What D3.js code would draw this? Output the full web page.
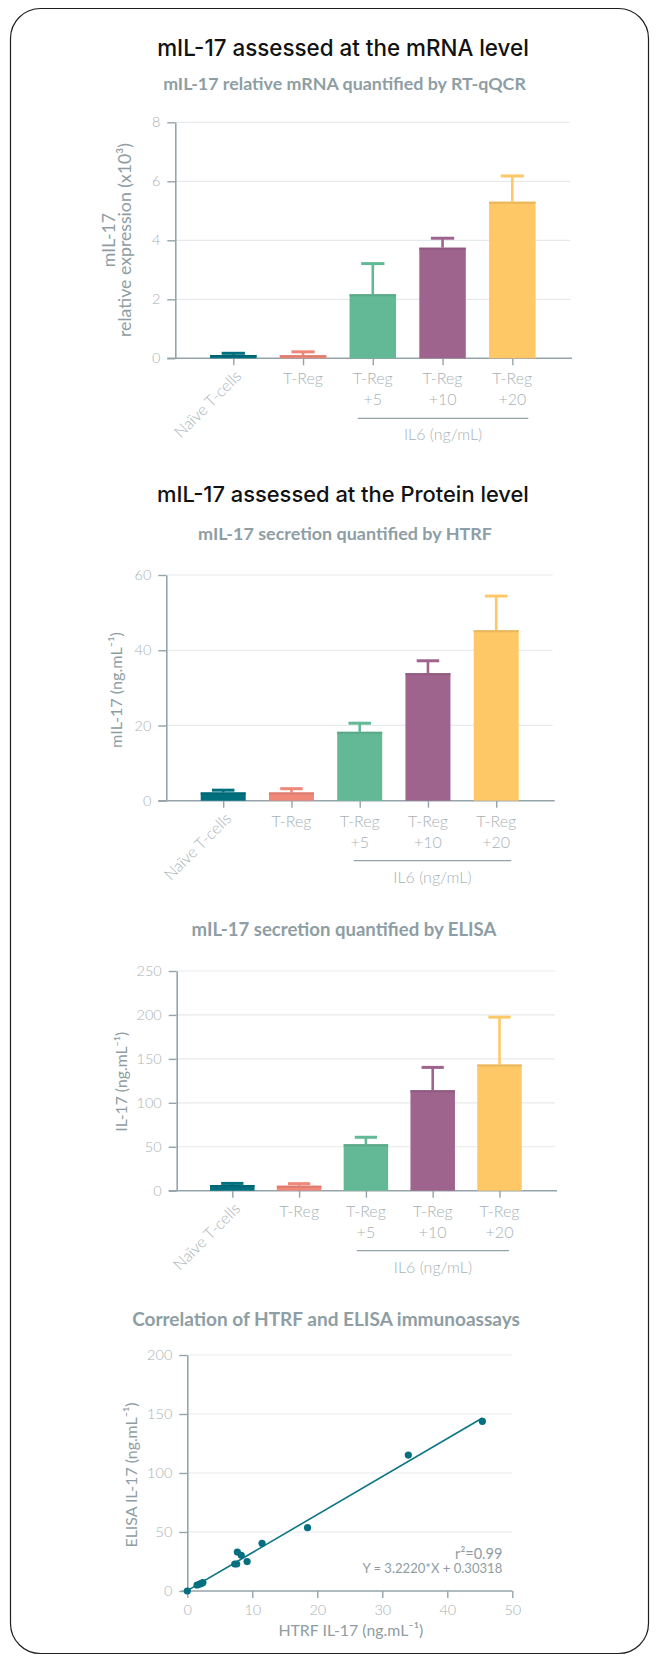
<!DOCTYPE html>
<html><head><meta charset="utf-8">
<script src="https://cdn.jsdelivr.net/npm/d3@7"></script>
<style>
html,body{margin:0;padding:0;background:#fff;}
svg{display:block;}
</style></head><body>
<svg id="fig" width="656" height="1659"></svg>
<script>
// ---- data ----
const categories = ["Naïve T-cells", "T-Reg", "T-Reg +5", "T-Reg +10", "T-Reg +20"];
const barColors = ["#00707f", "#f0887a", "#63b995", "#9e648d", "#fec867"];

const mrnaMean = [0.11, 0.10, 2.17, 3.75, 5.31];
const mrnaErr  = [0.06, 0.12, 1.04, 0.32, 0.87];
const mrnaTicks = [0, 2, 4, 6, 8];

const htrfMean = [2.2, 2.2, 18.3, 33.9, 45.3];
const htrfErr  = [0.6, 1.0, 2.3, 3.3, 9.1];
const htrfTicks = [0, 20, 40, 60];

const elisaMean = [6.5, 5.7, 52.8, 114.3, 143.5];
const elisaErr  = [1.8, 2.3, 8.0, 26.0, 54.0];
const elisaTicks = [0, 50, 100, 150, 200, 250];

const corrHtrf  = [0, 1.5, 1.9, 2.2, 2.4, 7.3, 7.6, 7.7, 8.3, 9.2, 11.5, 18.5, 34.0, 45.4];
const corrElisa = [0, 5.1, 5.9, 6.5, 7.1, 22.9, 22.9, 33.0, 30.2, 24.9, 40.4, 53.7, 115.2, 143.8];
const corrXTicks = [0, 10, 20, 30, 40, 50];
const corrYTicks = [0, 50, 100, 150, 200];
const fitSlope = 3.2220, fitIntercept = 0.30318, fitR2 = 0.99;
const fitXRange = [0, 45.4];

// ---- styling ----
const COL = {axis:"#95a4aa", grid:"#e6eaec", tick:"#a7b2b6", label:"#8f9da3", sub:"#8e9ea4", title:"#121212"};
const FONT = "Lato, 'Noto Sans', sans-serif";
const svg = d3.select("#fig");

svg.append("rect").attr("x",10.5).attr("y",8.5).attr("width",638).attr("height",1645)
  .attr("rx",30).attr("fill","#fff").attr("stroke","#1e1e1e").attr("stroke-width",1.2);

// set a text's font size so that its rendered length equals `width`
function fitSize(t, width){
  t.attr("font-size",20);
  const w = t.node().getComputedTextLength();
  const fs = 20*width/w;
  t.attr("font-size",fs);
  return fs;
}

function heading(txt, cx, cy, width, opts){
  const t = svg.append("text").text(txt).attr("x",cx).attr("text-anchor","middle")
    .attr("font-family",opts.family).attr("font-weight",opts.weight).attr("fill",opts.fill);
  const fs = fitSize(t, width);
  t.attr("y",cy + fs*0.36);
  return t;
}
const titleStyle = {family:"Inter, 'Noto Sans', sans-serif", weight:500, fill:COL.title};
const subStyle = {family:FONT, weight:700, fill:COL.sub};

heading("mIL-17 assessed at the mRNA level", 343, 47.6, 372, titleStyle);
heading("mIL-17 relative mRNA quantified by RT-qQCR", 344.5, 83.6, 363, subStyle);
heading("mIL-17 assessed at the Protein level", 343, 494, 372, titleStyle);
heading("mIL-17 secretion quantified by HTRF", 345, 534, 294, subStyle);
heading("mIL-17 secretion quantified by ELISA", 344, 929.3, 305, subStyle);
heading("Correlation of HTRF and ELISA immunoassays", 326, 1319.3, 388, subStyle);

function yAxis(g, y, ticks, axisX, gridRight){
  ticks.filter(d => d > 0).forEach(d => {
    g.append("line").attr("x1",axisX).attr("x2",gridRight).attr("y1",y(d)).attr("y2",y(d))
      .attr("stroke",COL.grid).attr("stroke-width",1.2);
  });
  const ax = g.append("g").attr("transform",`translate(${axisX},0)`)
    .call(d3.axisLeft(y).tickValues(ticks).tickSize(8).tickSizeOuter(0).tickPadding(7));
  ax.select(".domain").attr("stroke",COL.axis).attr("stroke-width",1.6);
  ax.selectAll(".tick line").attr("stroke",COL.axis).attr("stroke-width",1.4);
  ax.selectAll(".tick text").attr("fill",COL.tick).attr("font-family",FONT)
    .attr("font-weight",300).attr("font-size",14.5);
}

// vertical axis titles; the longest line (first with `len`) sets the size for all lines
function rotLabel(g, lines, cy){
  let fs = null;
  const texts = lines.map(l => g.append("text").attr("transform",`translate(${l.x},${cy}) rotate(-90)`)
      .attr("text-anchor","middle").attr("fill",COL.label).attr("font-family",FONT).text(l.text));
  lines.forEach((l,i) => { if (l.len && fs === null) fs = fitSize(texts[i], l.len); });
  texts.forEach(t => t.attr("font-size",fs));
}

function barChart(cfg){
  const g = svg.append("g");
  const y = d3.scaleLinear().domain([0, cfg.ticks[cfg.ticks.length-1]]).range([cfg.y0, cfg.yTop]);
  const x = d3.scalePoint().domain(categories).range(cfg.centers);
  yAxis(g, y, cfg.ticks, cfg.axisX, cfg.gridRight);
  g.append("line").attr("x1",cfg.axisX-8).attr("x2",cfg.gridRight+2).attr("y1",cfg.y0).attr("y2",cfg.y0)
    .attr("stroke",COL.axis).attr("stroke-width",1.6);
  const xa = g.append("g").attr("transform",`translate(0,${cfg.y0})`)
    .call(d3.axisBottom(x).tickSize(7).tickFormat(""));
  xa.select(".domain").remove();
  xa.selectAll(".tick line").attr("stroke",COL.axis).attr("stroke-width",1.4);

  const bw = cfg.barW, cw = cfg.barW/2;
  categories.forEach((c,i) => {
    const cx = x(c), m = cfg.means[i], e = cfg.errs[i], col = barColors[i];
    const dark = d3.color(col).darker(0.25);
    g.append("line").attr("x1",cx).attr("x2",cx).attr("y1",y(m)).attr("y2",y(m+e))
      .attr("stroke",col).attr("stroke-width",2.6);
    g.append("line").attr("x1",cx-cw/2).attr("x2",cx+cw/2).attr("y1",y(m+e)).attr("y2",y(m+e))
      .attr("stroke",col).attr("stroke-width",3);
    g.append("rect").attr("x",cx-bw/2).attr("width",bw).attr("y",y(m)).attr("height",cfg.y0-y(m))
      .attr("fill",col);
    g.append("line").attr("x1",cx-bw/2).attr("x2",cx+bw/2).attr("y1",y(m)+1).attr("y2",y(m)+1)
      .attr("stroke",dark).attr("stroke-width",2);
  });

  // category labels
  const lab = (sel) => sel.attr("fill",COL.tick).attr("font-family",FONT).attr("font-weight",300).attr("font-size",16);
  categories.forEach((c,i) => {
    const cx = x(c);
    if (i === 0){
      lab(g.append("text").attr("text-anchor","end")
        .attr("transform",`translate(${cx+9},${cfg.y0+19}) rotate(-45)`).text(c));
    } else {
      const parts = c.split(" ");
      lab(g.append("text").attr("text-anchor","middle").attr("x",cx).attr("y",cfg.y0+26).text(parts[0]));
      if (parts[1]) lab(g.append("text").attr("text-anchor","middle").attr("x",cx).attr("y",cfg.y0+47).text(parts[1]));
    }
  });
  // IL6 bracket
  const bl = x(categories[2]) + cfg.bracket[0], br = x(categories[4]) + cfg.bracket[1];
  g.append("line").attr("x1",bl).attr("x2",br).attr("y1",cfg.y0+60).attr("y2",cfg.y0+60)
    .attr("stroke",COL.axis).attr("stroke-width",1.3);
  lab(g.append("text").attr("text-anchor","middle").attr("x",(bl+br)/2).attr("y",cfg.y0+82).text("IL6 (ng/mL)"));

  rotLabel(g, cfg.yLabel, cfg.yLabelY);
}

barChart({means:mrnaMean, errs:mrnaErr, ticks:mrnaTicks, axisX:175.3, gridRight:570,
  y0:358.3, yTop:122.3, centers:[233.3,512.3], barW:46.5, bracket:[-15,16],
  yLabel:[{x:114.5,text:"mIL-17"},{x:131,text:"relative expression (x10³)",len:194}], yLabelY:240});

barChart({means:htrfMean, errs:htrfErr, ticks:htrfTicks, axisX:166.3, gridRight:552.7,
  y0:800.7, yTop:575, centers:[223.2,496.2], barW:45, bracket:[-6,15],
  yLabel:[{x:122,text:"mIL-17 (ng.mL⁻¹)",len:116}], yLabelY:690});

barChart({means:elisaMean, errs:elisaErr, ticks:elisaTicks, axisX:176.7, gridRight:555,
  y0:1190.7, yTop:971, centers:[232.3,499.5], barW:44.5, bracket:[-9,9.5],
  yLabel:[{x:127,text:"IL-17 (ng.mL⁻¹)",len:100}], yLabelY:1081.7});

// ---- correlation scatter ----
(function(){
  const g = svg.append("g");
  const axisX = 187.3, y0 = 1591;
  const x = d3.scaleLinear().domain([0,50]).range([187.3,512.3]);
  const y = d3.scaleLinear().domain([0,200]).range([1591,1355]);
  yAxis(g, y, corrYTicks, axisX, x(50));
  g.append("line").attr("x1",axisX-6).attr("x2",x(50)).attr("y1",y0).attr("y2",y0)
    .attr("stroke",COL.axis).attr("stroke-width",1.6);
  const xa = g.append("g").attr("transform",`translate(0,${y0})`)
    .call(d3.axisBottom(x).tickValues(corrXTicks).tickSize(7).tickPadding(7).tickSizeOuter(0));
  xa.select(".domain").remove();
  xa.selectAll(".tick line").attr("stroke",COL.axis).attr("stroke-width",1.4);
  xa.selectAll(".tick text").attr("fill",COL.tick).attr("font-family",FONT)
    .attr("font-weight",300).attr("font-size",14.5);

  g.append("line").attr("x1",x(fitXRange[0])).attr("y1",y(fitSlope*fitXRange[0]+fitIntercept))
    .attr("x2",x(fitXRange[1])).attr("y2",y(fitSlope*fitXRange[1]+fitIntercept))
    .attr("stroke","#0d7585").attr("stroke-width",1.6);
  g.selectAll("circle.pt").data(d3.range(corrHtrf.length)).join("circle")
    .attr("cx",i => x(corrHtrf[i])).attr("cy",i => y(corrElisa[i])).attr("r",3.6).attr("fill","#04707f");

  const ann = (sel) => sel.attr("fill",COL.label).attr("font-family",FONT).attr("text-anchor","end");
  ann(g.append("text").attr("x",502.3).attr("y",1558.5).text(`r²=${fitR2}`)).attr("font-size",14.5);
  const eq = ann(g.append("text").attr("x",502.3).attr("y",1572.5)
    .text(`Y = ${fitSlope.toFixed(4)}*X + ${fitIntercept}`));
  fitSize(eq, 140);

  rotLabel(g, [{x:137,text:"ELISA IL-17 (ng.mL⁻¹)",len:145}], 1475);
  const xl = g.append("text").attr("x",350.8).attr("y",1635.5).attr("text-anchor","middle")
    .attr("fill",COL.label).attr("font-family",FONT).text("HTRF IL-17 (ng.mL⁻¹)");
  fitSize(xl, 145);
})();
</script>
</body></html>
